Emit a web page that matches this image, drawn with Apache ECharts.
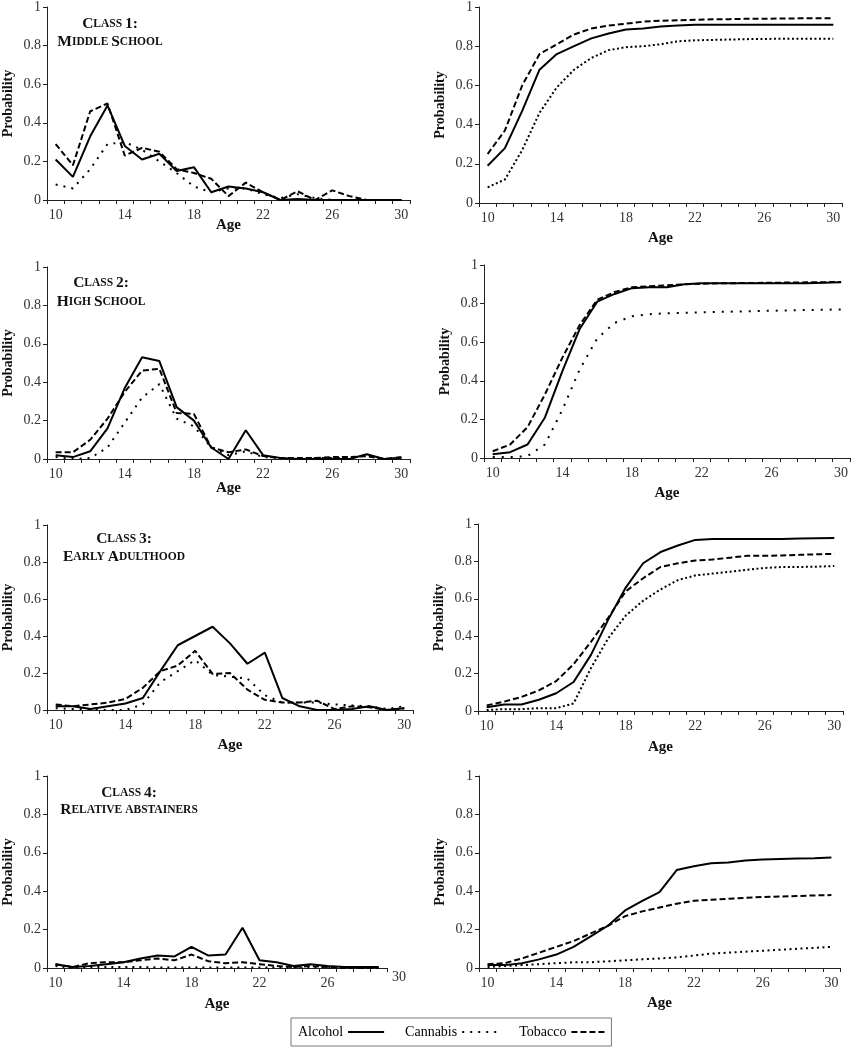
<!DOCTYPE html>
<html><head><meta charset="utf-8">
<script src="https://cdn.jsdelivr.net/npm/echarts@6/dist/echarts.min.js"></script>
<style>html,body{margin:0;padding:0;background:#fff}#chart{width:851px;height:1050px}</style>
</head><body><div id="chart"></div>
<script>
// ---------- DATA ----------
const ages = ['10','11','12','13','14','15','16','17','18','19','20','21','22','23','24','25','26','27','28','29','30'];
const agesClass4 = ['10','11','12','13','14','15','16','17','18','19','20','21','22','23','24','25','26','27','28','29'];
const strayTickLabel = '30';
const seriesNames = ['Alcohol', 'Cannabis', 'Tobacco'];
const yTicks = [0, 0.2, 0.4, 0.6, 0.8, 1];

const classTitles = [['Class 1:', 'Middle School'], ['Class 2:', 'High School'], ['Class 3:', 'Early Adulthood'], ['Class 4:', 'Relative abstainers']];

// Class 1: age-specific
const class1Alcohol  = [0.21,0.12,0.33,0.49,0.28,0.21,0.24,0.15,0.17,0.04,0.07,0.06,0.04,0.00,0.005,0.00,0.00,0.00,0.00,0.00,0.00];
const class1Cannabis = [0.08,0.06,0.16,0.29,0.30,0.26,0.20,0.14,0.07,0.04,0.06,0.06,0.03,0.01,0.03,0.01,0.00,0.00,0.00,0.00,0.00];
const class1Tobacco  = [0.29,0.18,0.46,0.50,0.23,0.27,0.25,0.16,0.14,0.11,0.02,0.09,0.04,0.00,0.045,0.00,0.05,0.02,0.00,0.00,0.00];
// Class 1: cumulative
const class1AlcoholCum  = [0.19,0.28,0.47,0.68,0.76,0.80,0.84,0.865,0.885,0.89,0.90,0.905,0.91,0.91,0.91,0.91,0.91,0.91,0.91,0.91,0.91];
const class1CannabisCum = [0.08,0.12,0.27,0.46,0.59,0.68,0.74,0.78,0.795,0.80,0.81,0.825,0.83,0.832,0.834,0.836,0.837,0.838,0.838,0.838,0.838];
const class1TobaccoCum  = [0.25,0.37,0.60,0.76,0.81,0.86,0.89,0.905,0.915,0.925,0.93,0.932,0.935,0.937,0.938,0.94,0.94,0.941,0.942,0.942,0.942];

// Class 2
const class2Alcohol  = [0.02,0.01,0.04,0.16,0.37,0.53,0.51,0.27,0.20,0.06,0.00,0.15,0.02,0.005,0.00,0.00,0.00,0.00,0.025,0.00,0.005];
const class2Cannabis = [0.01,0.00,0.005,0.06,0.19,0.32,0.39,0.21,0.17,0.06,0.02,0.04,0.01,0.005,0.005,0.005,0.005,0.005,0.02,0.00,0.005];
const class2Tobacco  = [0.035,0.035,0.10,0.21,0.35,0.46,0.47,0.24,0.235,0.06,0.035,0.05,0.015,0.005,0.005,0.005,0.01,0.01,0.015,0.00,0.01];
const class2AlcoholCum  = [0.02,0.03,0.07,0.21,0.45,0.67,0.81,0.85,0.88,0.885,0.885,0.90,0.905,0.905,0.905,0.905,0.905,0.905,0.905,0.908,0.91];
const class2CannabisCum = [0.005,0.005,0.01,0.07,0.25,0.46,0.62,0.70,0.735,0.745,0.75,0.752,0.755,0.757,0.759,0.761,0.763,0.765,0.767,0.768,0.77];
const class2TobaccoCum  = [0.035,0.07,0.16,0.33,0.52,0.69,0.82,0.86,0.885,0.89,0.895,0.90,0.903,0.905,0.906,0.907,0.908,0.909,0.91,0.911,0.912];

// Class 3
const class3Alcohol  = [0.02,0.02,0.005,0.02,0.035,0.065,0.21,0.35,0.40,0.45,0.36,0.25,0.31,0.065,0.02,0.00,0.00,0.005,0.02,0.00,0.01];
const class3Cannabis = [0.01,0.005,0.005,0.00,0.00,0.03,0.15,0.21,0.27,0.19,0.18,0.17,0.08,0.04,0.04,0.04,0.03,0.025,0.02,0.005,0.02];
const class3Tobacco  = [0.03,0.02,0.03,0.04,0.06,0.12,0.21,0.24,0.32,0.195,0.20,0.11,0.055,0.04,0.04,0.05,0.005,0.02,0.015,0.00,0.01];
const class3AlcoholCum  = [0.02,0.035,0.035,0.06,0.095,0.155,0.30,0.49,0.66,0.79,0.85,0.885,0.915,0.92,0.92,0.92,0.92,0.92,0.922,0.924,0.925];
const class3CannabisCum = [0.005,0.01,0.01,0.015,0.015,0.04,0.23,0.39,0.51,0.59,0.65,0.70,0.725,0.735,0.745,0.755,0.765,0.77,0.77,0.772,0.775];
const class3TobaccoCum  = [0.03,0.05,0.075,0.11,0.16,0.25,0.37,0.50,0.64,0.71,0.77,0.79,0.805,0.81,0.82,0.83,0.83,0.832,0.835,0.838,0.84];

// Class 4 (age-specific panel stops at 29)
const class4Alcohol  = [0.02,0.005,0.01,0.02,0.03,0.05,0.065,0.06,0.11,0.065,0.07,0.21,0.04,0.03,0.01,0.02,0.01,0.005,0.005,0.005];
const class4Cannabis = [0.01,0.00,0.005,0.005,0.005,0.005,0.003,0.003,0.003,0.003,0.003,0.003,0.003,0.003,0.003,0.003,0.003,0.003,0.003,0.005];
const class4Tobacco  = [0.02,0.005,0.025,0.03,0.03,0.04,0.05,0.04,0.07,0.035,0.025,0.03,0.02,0.01,0.005,0.01,0.005,0.00,0.00,0.00];
const class4AlcoholCum  = [0.015,0.015,0.025,0.045,0.07,0.11,0.165,0.22,0.30,0.35,0.395,0.51,0.53,0.545,0.55,0.56,0.565,0.568,0.57,0.572,0.575];
const class4CannabisCum = [0.005,0.01,0.015,0.02,0.025,0.03,0.03,0.035,0.04,0.045,0.05,0.055,0.065,0.075,0.08,0.085,0.09,0.095,0.10,0.105,0.11];
const class4TobaccoCum  = [0.02,0.025,0.05,0.08,0.11,0.14,0.18,0.22,0.27,0.295,0.315,0.335,0.35,0.355,0.36,0.365,0.37,0.372,0.375,0.378,0.38];

// ---------- LAYOUT / STYLE ----------
const FONT = 'Liberation Serif';
const panels = [
  { grid: {left: 43,  top: 6,   width: 367, height: 194}, cats: ages, data: [class1Alcohol, class1Cannabis, class1Tobacco], ageGap: 18, dot: [2, 6] },
  { grid: {left: 479, top: 6,   width: 363, height: 197}, cats: ages, data: [class1AlcoholCum, class1CannabisCum, class1TobaccoCum], ageGap: 28, dot: [2, 2.5] },
  { grid: {left: 43,  top: 267, width: 367, height: 192}, cats: ages, data: [class2Alcohol, class2Cannabis, class2Tobacco], ageGap: 22, dot: [2, 6] },
  { grid: {left: 484, top: 265, width: 370, height: 193}, cats: ages, data: [class2AlcoholCum, class2CannabisCum, class2TobaccoCum], ageGap: 28, dot: [2, 7] },
  { grid: {left: 43,  top: 525, width: 370, height: 185}, cats: ages, data: [class3Alcohol, class3Cannabis, class3Tobacco], ageGap: 28, dot: [2, 6] },
  { grid: {left: 478, top: 524, width: 365, height: 187}, cats: ages, data: [class3AlcoholCum, class3CannabisCum, class3TobaccoCum], ageGap: 29, dot: [2, 2.5] },
  { grid: {left: 43,  top: 776, width: 344, height: 192}, cats: agesClass4, data: [class4Alcohol, class4Cannabis, class4Tobacco], ageGap: 29, dot: [2, 5] },
  { grid: {left: 479, top: 776, width: 361, height: 192}, cats: ages, data: [class4AlcoholCum, class4CannabisCum, class4TobaccoCum], ageGap: 28, dot: [2, 3.5] }
];
const titlePos = [ {x: 110, y1: 24, y2: 42}, {x: 101, y1: 283, y2: 302}, {x: 124, y1: 539, y2: 557}, {x: 129, y1: 793, y2: 810} ];

function smallCaps(str) {
  let out = '', cur = null, buf = '';
  for (const ch of str) {
    const isLower = ch !== ch.toUpperCase();
    const style = isLower ? 's' : 'b';
    if (ch === ' ') { buf += ch; continue; }
    if (style !== cur && buf) { out += '{' + cur + '|' + buf + '}'; buf = ''; }
    cur = style; buf += isLower ? ch.toUpperCase() : ch;
  }
  if (buf) out += '{' + cur + '|' + buf + '}';
  return out;
}

const grids = [], xAxes = [], yAxes = [], series = [], graphics = [];
panels.forEach((p, i) => {
  grids.push(Object.assign({containLabel: false}, p.grid));
  xAxes.push({
    type: 'category', gridIndex: i, data: p.cats, boundaryGap: true,
    name: 'Age', nameLocation: 'middle', nameGap: p.ageGap, nameMoveOverlap: false,
    nameTextStyle: {fontFamily: FONT, fontWeight: 'bold', fontSize: 15, color: '#111', verticalAlign: 'top'},
    axisLine: {lineStyle: {color: '#222', width: 1}},
    axisTick: {show: true, interval: 0, alignWithLabel: false, length: 4, lineStyle: {color: '#222'}},
    axisLabel: {interval: 3, fontFamily: FONT, fontSize: 14, color: '#333', margin: 8},
    splitLine: {show: false}
  });
  yAxes.push({
    type: 'value', gridIndex: i, min: yTicks[0], max: yTicks[yTicks.length - 1], interval: 0.2,
    name: 'Probability', nameLocation: 'middle', nameGap: 32, nameRotate: 90, nameMoveOverlap: false,
    nameTextStyle: {fontFamily: FONT, fontWeight: 'bold', fontSize: 14, color: '#111'},
    axisLine: {show: true, lineStyle: {color: '#222', width: 1}},
    axisTick: {show: true, length: 4, lineStyle: {color: '#222'}},
    axisLabel: {fontFamily: FONT, fontSize: 14, color: '#333', margin: 6,
      formatter: v => (v === 0 ? '0' : v === 1 ? '1' : v.toFixed(1))},
    splitLine: {show: false}
  });
  const types = ['solid', p.dot, [6, 3]];
  seriesNames.forEach((name, k) => {
    series.push({
      type: 'line', name: name, xAxisIndex: i, yAxisIndex: i, data: p.data[k],
      symbol: 'none', showSymbol: false, animation: false, silent: true,
      lineStyle: {color: '#000', width: 2, type: types[k], cap: 'butt'},
      itemStyle: {color: '#000'}
    });
  });
});

classTitles.forEach((t, i) => {
  const pos = titlePos[i];
  [t[0], t[1]].forEach((line, j) => {
    graphics.push({
      type: 'text', x: pos.x, y: j === 0 ? pos.y1 : pos.y2,
      style: {
        text: smallCaps(line), textAlign: 'center', textVerticalAlign: 'middle',
        rich: {
          b: {fontFamily: FONT, fontWeight: 'bold', fontSize: 15.5, fill: '#111', color: '#111'},
          s: {fontFamily: FONT, fontWeight: 'bold', fontSize: 11.5, fill: '#111', color: '#111'}
        }
      }
    });
  });
});
graphics.push({
  type: 'text', x: 399, y: 977,
  style: {text: strayTickLabel, textAlign: 'center', textVerticalAlign: 'middle', fontFamily: FONT, fontSize: 14, fill: '#333'}
});

const chart = echarts.init(document.getElementById('chart'));
chart.setOption({
  backgroundColor: '#fff',
  animation: false,
  grid: grids, xAxis: xAxes, yAxis: yAxes, series: series,
  graphic: graphics,
  legend: {
    data: seriesNames, left: 291, top: 1018, orient: 'horizontal', align: 'right',
    itemWidth: 36, itemHeight: 14, itemGap: 20, padding: [7, 3, 7, 7],
    borderColor: '#777', borderWidth: 1, selectedMode: false,
    itemStyle: {color: 'rgba(0,0,0,0)', borderColor: 'rgba(0,0,0,0)', borderWidth: 0, opacity: 0},
    textStyle: {fontFamily: FONT, fontSize: 14, color: '#000'}
  }
});
</script></body></html>
